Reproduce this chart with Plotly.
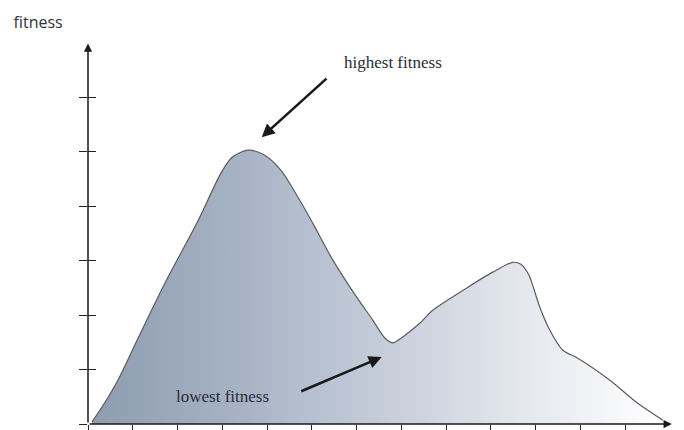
import plotly.graph_objects as go

# Landscape curve (x in tick units, y in tick units)
curve_x = [0.09, 0.38, 0.67, 1.12, 1.72, 2.46, 2.97, 3.22, 3.57, 3.92,
           4.31, 4.73, 5.02, 5.47, 6.00, 6.36, 6.63, 6.81, 7.03, 7.41, 7.70, 8.46,
           9.04, 9.49, 9.66, 9.84, 10.09, 10.31, 10.60, 10.94, 11.65, 12.25, 12.84]
curve_y = [0.04, 0.40, 0.81, 1.58, 2.59, 3.74, 4.61, 4.90, 5.03, 4.95,
           4.66, 4.11, 3.69, 3.01, 2.33, 1.91, 1.58, 1.49, 1.60, 1.85, 2.09, 2.50,
           2.79, 2.97, 2.94, 2.75, 2.15, 1.73, 1.36, 1.21, 0.81, 0.40, 0.07]

x_ticks = list(range(0, 13))
y_ticks = list(range(0, 7))

high_label = "highest fitness"
low_label = "lowest fitness"
axis_title = "fitness"

fig = go.Figure()

fig.add_trace(go.Scatter(
    x=curve_x, y=curve_y, mode="lines",
    line=dict(color="#5c5c5c", width=1.2, shape="spline", smoothing=0.8),
    fill="tozeroy",
    fillgradient=dict(type="horizontal",
                      colorscale=[[0, "#8e9cb0"], [0.28, "#a9b5c7"], [0.52, "#c7ceda"],
                                  [0.76, "#e5e8ee"], [1, "#ffffff"]]),
    showlegend=False, hoverinfo="skip"))

# invisible helper trace for second y axis (ticks crossing the axis)
fig.add_trace(go.Scatter(x=[0], y=[0], yaxis="y2", mode="markers",
                         marker=dict(opacity=0), showlegend=False, hoverinfo="skip"))

tick_common = dict(showgrid=False, zeroline=False, showline=False, showticklabels=False,
                   tickcolor="#222222", tickwidth=1.3, automargin=False)

# page body has an 8px default margin, compensated in the figure margins
fig.update_layout(
    width=684, height=430,
    margin=dict(l=80, r=21.6, t=34.5, b=14, autoexpand=False),
    paper_bgcolor="white", plot_bgcolor="white",
    title=dict(text=axis_title, xref="container", yref="container",
               x=0.044, y=0.967, xanchor="center", yanchor="middle",
               font=dict(family="Open Sans", size=16, color="#333333")),
    xaxis=dict(range=[0, 13], tickvals=x_ticks, ticks="outside", ticklen=7, **tick_common),
    yaxis=dict(range=[0, 7], tickvals=y_ticks, ticks="outside", ticklen=8, **tick_common),
    yaxis2=dict(range=[0, 7], matches="y", overlaying="y", anchor="x", side="left",
                tickvals=y_ticks, ticks="inside", ticklen=8, **tick_common),
)

annots = [
    # axes with arrowheads
    dict(x=13.04, y=0, ax=0, ay=0, xref="x", yref="y", axref="x", ayref="y",
         showarrow=True, arrowhead=2, arrowsize=1.1, arrowwidth=1.5, arrowcolor="#1a1a1a", text=""),
    dict(x=0, y=6.99, ax=0, ay=0, xref="x", yref="y", axref="x", ayref="y",
         showarrow=True, arrowhead=2, arrowsize=1.1, arrowwidth=1.5, arrowcolor="#1a1a1a", text=""),
    # pointer arrows
    dict(x=3.88, y=5.27, ax=5.36, ay=6.37, xref="x", yref="y", axref="x", ayref="y",
         showarrow=True, arrowhead=2, arrowsize=1, arrowwidth=2.6, arrowcolor="#1a1a1a", text=""),
    dict(x=6.56, y=1.23, ax=4.73, ay=0.59, xref="x", yref="y", axref="x", ayref="y",
         showarrow=True, arrowhead=2, arrowsize=1, arrowwidth=2.6, arrowcolor="#1a1a1a", text=""),
    # labels
    dict(x=6.81, y=6.64, xref="x", yref="y", text=high_label, showarrow=False,
         font=dict(family="Liberation Serif", size=17, color="#2b2b38")),
    dict(x=3.01, y=0.50, xref="x", yref="y", text=low_label, showarrow=False,
         font=dict(family="Liberation Serif", size=17, color="#2b2b38")),
]
fig.update_layout(annotations=annots)

fig.write_html("out.html")
